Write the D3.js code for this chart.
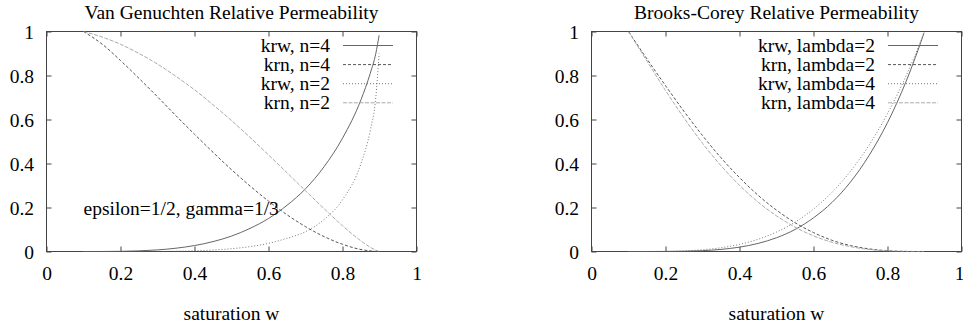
<!DOCTYPE html>
<html><head><meta charset="utf-8">
<script src="https://cdn.jsdelivr.net/npm/d3@7"></script>
<style>
body{margin:0;background:#fff}
svg{display:block}
text{font-family:"Liberation Serif","DejaVu Serif",serif;font-size:19.5px;fill:#000}
</style>
</head><body>
<svg id="c" width="963" height="331"></svg>
<script>
// ---- data ----
const saturation = [0.1,0.15,0.2,0.25,0.3,0.35,0.4,0.45,0.5,0.55,0.6,0.65,0.7,0.75,0.8,0.85,0.875,0.89,0.899];

const vgKrwN4 = [0,0.0001,0.0008,0.0029,0.0073,0.015,0.027,0.045,0.070,0.105,0.15,0.21,0.285,0.385,0.515,0.69,0.81,0.9,0.983];
const vgKrnN4 = [1,0.943,0.868,0.787,0.703,0.617,0.533,0.451,0.372,0.298,0.229,0.167,0.113,0.068,0.033,0.009,0.003,0.0005,0];
const vgKrwN2 = [0,0,0,0.0001,0.0005,0.0014,0.0033,0.0067,0.0127,0.022,0.037,0.06,0.09,0.145,0.235,0.40,0.55,0.70,0.9];
const vgKrnN2 = [1,0.975,0.942,0.900,0.852,0.796,0.735,0.667,0.595,0.519,0.439,0.358,0.276,0.195,0.117,0.048,0.019,0.006,0];

const bcKrwL2 = [0,0,0.0002,0.0012,0.0039,0.0095,0.0198,0.0366,0.0625,0.100,0.153,0.223,0.316,0.436,0.586,0.772,0.881,0.951,0.995];
const bcKrnL2 = [1,0.875,0.754,0.637,0.527,0.426,0.336,0.256,0.188,0.131,0.086,0.051,0.027,0.012,0.0037,0.0005,0.0001,0,0];
const bcKrwL4 = [0,0.0001,0.0007,0.0029,0.0078,0.0171,0.0323,0.0554,0.0884,0.133,0.193,0.269,0.365,0.483,0.627,0.798,0.895,0.957,0.996];
const bcKrnL4 = [1,0.865,0.732,0.607,0.492,0.390,0.301,0.225,0.162,0.111,0.071,0.042,0.022,0.0094,0.0028,0.0004,0,0,0];

const xTicks = [0,0.2,0.4,0.6,0.8,1];
const xTickLabels = ["0","0.2","0.4","0.6","0.8","1"];
const yTicks = [0,0.2,0.4,0.6,0.8,1];
const yTickLabels = ["0","0.2","0.4","0.6","0.8","1"];

const vgLabels = ["krw, n=4","krn, n=4","krw, n=2","krn, n=2"];
const bcLabels = ["krw, lambda=2","krn, lambda=2","krw, lambda=4","krn, lambda=4"];
const xAxisTitle = "saturation w";

// ---- styles ----
const FONT = '"Liberation Serif","DejaVu Serif",serif';
const FS = 19.5;
const styles = [
  {stroke:"#666", dash:null},
  {stroke:"#555", dash:"3,2"},
  {stroke:"#777", dash:"1,2"},
  {stroke:"#aaa", dash:"4,1.5"}
];

const panels = [
  {left:46.5, title:"Van Genuchten Relative Permeability",
   series:[vgKrwN4,vgKrnN4,vgKrwN2,vgKrnN2], labels:vgLabels,
   note:{x:0.1,y:0.2,text:"epsilon=1/2, gamma=1/3"}},
  {left:591.5, title:"Brooks-Corey Relative Permeability",
   series:[bcKrwL2,bcKrnL2,bcKrwL4,bcKrnL4], labels:bcLabels, note:null}
];

const W = 370, H = 220, TOP = 31.5;
const svg = d3.select("#c");

panels.forEach((p, pi) => {
  const g = svg.append("g").attr("transform", `translate(${p.left},${TOP})`);
  const x = d3.scaleLinear().domain([0,1]).range([0,W]);
  const y = d3.scaleLinear().domain([0,1]).range([H,0]);

  const clipId = "clip"+pi;
  g.append("clipPath").attr("id", clipId).append("rect")
    .attr("x",0).attr("y",0).attr("width",W).attr("height",H);

  const fmtX = (d,i) => xTickLabels[i];
  const fmtY = (d,i) => yTickLabels[i];
  const bottom = g.append("g").attr("transform",`translate(0,${H})`)
    .call(d3.axisBottom(x).tickValues(xTicks).tickFormat(fmtX).tickSizeInner(-5).tickSizeOuter(0).tickPadding(14.2));
  const top = g.append("g")
    .call(d3.axisTop(x).tickValues(xTicks).tickFormat("").tickSizeInner(-5).tickSizeOuter(0));
  const left = g.append("g")
    .call(d3.axisLeft(y).tickValues(yTicks).tickFormat(fmtY).tickSizeInner(-5).tickSizeOuter(0).tickPadding(12.5));
  const right = g.append("g").attr("transform",`translate(${W},0)`)
    .call(d3.axisRight(y).tickValues(yTicks).tickFormat("").tickSizeInner(-5).tickSizeOuter(0));
  [bottom,top,left,right].forEach(a => {
    a.select(".domain").remove();
    a.attr("font-family", FONT).attr("font-size", FS);
    a.selectAll("line").attr("stroke","#444");
    a.selectAll("text").attr("fill","#000");
  });
  left.selectAll("text").attr("dy","0.34em");
  // keep the last x label of the right panel inside the window
  if (pi === 1) bottom.selectAll("text").filter((d,i)=>i===xTicks.length-1).attr("dx", -2.5);

  g.append("rect").attr("x",0).attr("y",0).attr("width",W).attr("height",H)
    .attr("fill","none").attr("stroke","#444").attr("stroke-width",1);

  const line = d3.line().x((d,i)=>x(saturation[i])).y(d=>y(d)).curve(d3.curveMonotoneX);
  const cg = g.append("g").attr("clip-path",`url(#${clipId})`);
  p.series.forEach((s, si) => {
    cg.append("path").attr("d", line(s)).attr("fill","none")
      .attr("stroke", styles[si].stroke).attr("stroke-width",1)
      .attr("stroke-dasharray", styles[si].dash);
  });

  p.labels.forEach((lab, li) => {
    const base = 20.5 + li*19.1;
    g.append("text").attr("x", W-86.5).attr("y", base).attr("text-anchor","end").text(lab);
    g.append("line").attr("x1", W-73.5).attr("x2", W-23.5)
      .attr("y1", base-6.5).attr("y2", base-6.5)
      .attr("stroke", styles[li].stroke).attr("stroke-width",1)
      .attr("stroke-dasharray", styles[li].dash);
  });

  g.append("text").attr("x", W/2).attr("y", -13).attr("text-anchor","middle").text(p.title);
  g.append("text").attr("x", W/2).attr("y", H+68.5).attr("text-anchor","middle").text(xAxisTitle);
  if (p.note) {
    g.append("text").attr("x", x(p.note.x)).attr("y", y(p.note.y)).attr("dy","0.36em").text(p.note.text);
  }
});
</script>
</body></html>
